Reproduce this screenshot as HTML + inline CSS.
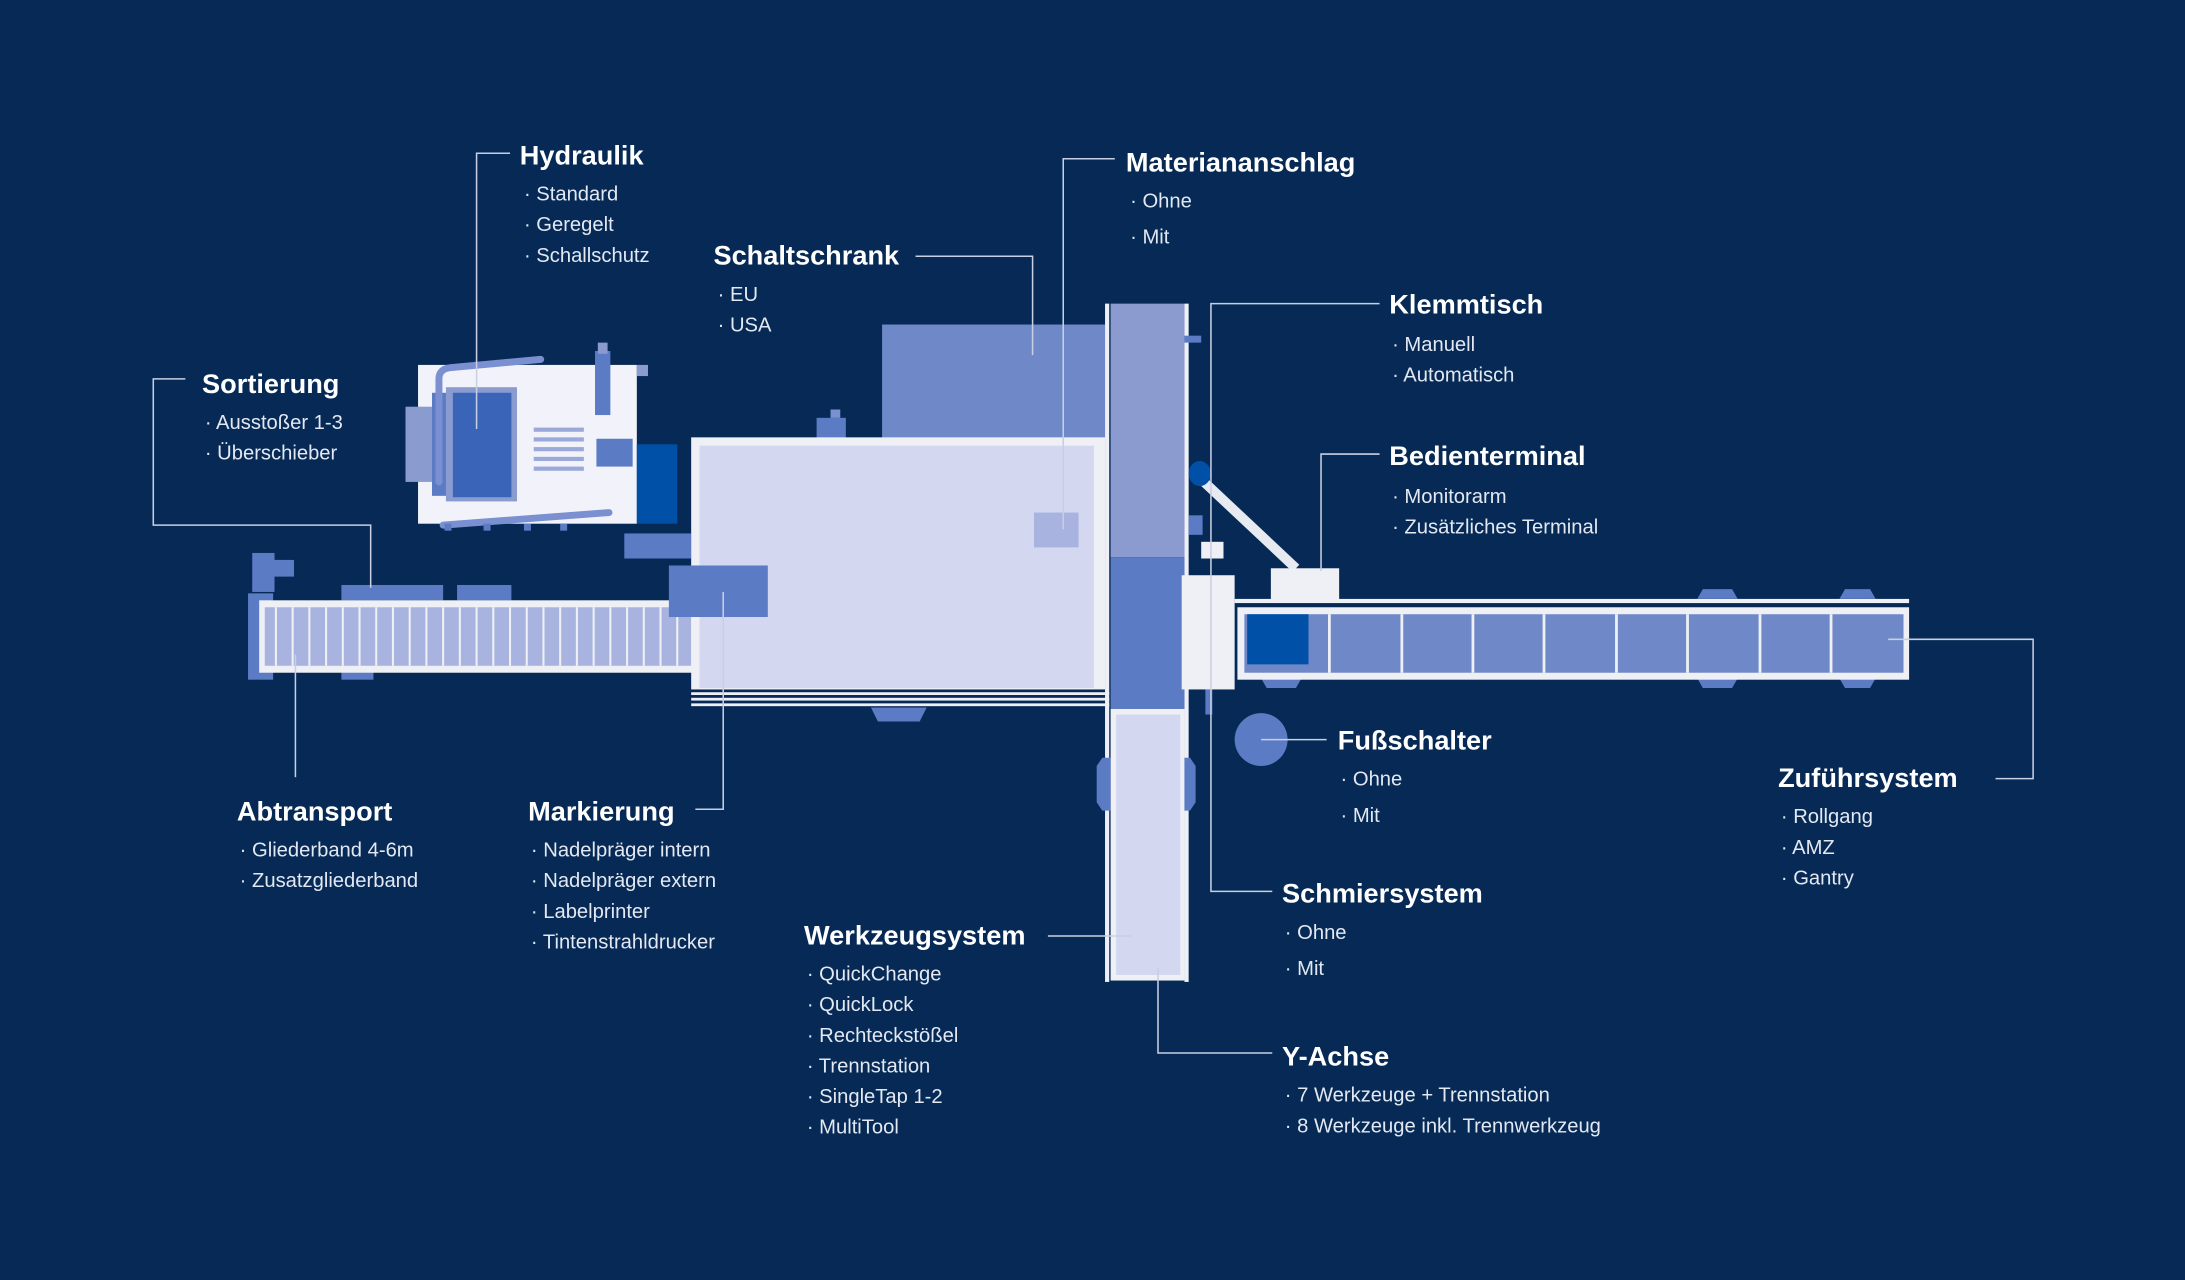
<!DOCTYPE html>
<html><head><meta charset="utf-8"><style>
html,body{margin:0;padding:0;background:#062a55;}
svg{display:block;}
.t{font-family:"Liberation Sans",sans-serif;font-weight:bold;font-size:19.5px;fill:#ffffff;}
.i{font-family:"Liberation Sans",sans-serif;font-size:14.5px;fill:#e3e8f2;}
.c{stroke:#c9cfe2;stroke-width:1.1;fill:none;}
</style></head><body>
<svg width="2185" height="1280" viewBox="0 0 1568 919" preserveAspectRatio="none" xmlns="http://www.w3.org/2000/svg">
<rect width="1568" height="919" fill="#062a55"/>

<!-- Left conveyor -->
<rect x="181" y="397" width="16" height="28" fill="#5b7bc4"/>
<rect x="195" y="402" width="16" height="12" fill="#5b7bc4"/>
<rect x="178" y="426" width="18" height="62" fill="#5b7bc4"/>
<rect x="245" y="420" width="73" height="11" fill="#5b7bc4"/>
<rect x="328" y="420" width="39" height="11" fill="#5b7bc4"/>
<rect x="245" y="482" width="23" height="6" fill="#5b7bc4"/>
<rect x="186" y="431" width="312" height="52" fill="#eef0f6"/>
<rect x="190" y="436" width="306" height="42" fill="#a8b3e0"/>
<g stroke="#eef0f6" stroke-width="1.5">
<line x1="198" y1="436" x2="198" y2="478"/><line x1="210" y1="436" x2="210" y2="478"/><line x1="222" y1="436" x2="222" y2="478"/><line x1="234" y1="436" x2="234" y2="478"/><line x1="246" y1="436" x2="246" y2="478"/><line x1="258" y1="436" x2="258" y2="478"/><line x1="270" y1="436" x2="270" y2="478"/><line x1="282" y1="436" x2="282" y2="478"/><line x1="294" y1="436" x2="294" y2="478"/><line x1="306" y1="436" x2="306" y2="478"/><line x1="318" y1="436" x2="318" y2="478"/><line x1="330" y1="436" x2="330" y2="478"/><line x1="342" y1="436" x2="342" y2="478"/><line x1="354" y1="436" x2="354" y2="478"/><line x1="366" y1="436" x2="366" y2="478"/><line x1="378" y1="436" x2="378" y2="478"/><line x1="390" y1="436" x2="390" y2="478"/><line x1="402" y1="436" x2="402" y2="478"/><line x1="414" y1="436" x2="414" y2="478"/><line x1="426" y1="436" x2="426" y2="478"/><line x1="438" y1="436" x2="438" y2="478"/><line x1="450" y1="436" x2="450" y2="478"/><line x1="462" y1="436" x2="462" y2="478"/><line x1="474" y1="436" x2="474" y2="478"/><line x1="486" y1="436" x2="486" y2="478"/>
</g>

<!-- Hydraulik unit -->
<rect x="300" y="262" width="157" height="114" fill="#f2f3fa"/>
<rect x="291" y="292" width="20" height="54" fill="#8a9bd0"/>
<rect x="310" y="282" width="12" height="74" fill="#5b7bc4"/>
<rect x="320" y="278" width="51" height="82" fill="#8a9bd0"/>
<rect x="325" y="282" width="42" height="75" fill="#3a64b8"/>
<g fill="#9aa8da"><rect x="383" y="307" width="36" height="3"/><rect x="383" y="314" width="36" height="3"/><rect x="383" y="321" width="36" height="3"/><rect x="383" y="328" width="36" height="3"/><rect x="383" y="335" width="36" height="3"/></g>
<rect x="428" y="315" width="26" height="20" fill="#5b7bc4"/>
<rect x="457" y="319" width="29" height="57" fill="#0050a8"/>
<rect x="427" y="252" width="11" height="46" fill="#5b7bc4"/>
<rect x="429" y="246" width="7" height="8" fill="#8a9bd0"/>
<rect x="457" y="262" width="8" height="8" fill="#8a9bd0"/>
<path d="M315,346 L315,272 Q315,265 323,264 L388,258" stroke="#7b90d0" stroke-width="5" fill="none" stroke-linecap="round"/>
<path d="M318,377 L437,368" stroke="#7b90d0" stroke-width="5" fill="none" stroke-linecap="round"/>
<g fill="#5b7bc4"><rect x="319" y="376" width="5" height="5"/><rect x="347" y="376" width="5" height="5"/><rect x="376" y="376" width="5" height="5"/><rect x="402" y="376" width="5" height="5"/></g>

<!-- Schaltschrank -->
<rect x="633" y="233" width="160" height="82" fill="#6f88c8"/>
<rect x="586" y="300" width="21" height="15" fill="#5b7bc4"/>
<rect x="596" y="294" width="7" height="6" fill="#7b90d0"/>
<rect x="448" y="383" width="48" height="18" fill="#5b7bc4"/>

<!-- main body -->
<rect x="496" y="314" width="297" height="181" fill="#eef0f6"/>
<rect x="502" y="320" width="283" height="174" fill="#d3d8f0"/>
<rect x="496" y="497" width="300" height="2" fill="#eef0f6"/>
<rect x="496" y="501" width="300" height="2" fill="#eef0f6"/>
<rect x="496" y="505" width="300" height="2" fill="#eef0f6"/>
<path d="M625,508 L665,508 L660,518 L630,518 Z" fill="#5b7bc4"/>
<rect x="480" y="406" width="71" height="37" fill="#5b7bc4"/>
<rect x="742" y="368" width="32" height="25" fill="#a8b3e0"/>

<!-- vertical column -->
<rect x="793" y="218" width="3" height="487" fill="#eef0f6"/>
<rect x="850" y="218" width="3" height="487" fill="#eef0f6"/>
<rect x="797" y="218" width="53" height="182" fill="#8b9bd0"/>
<rect x="797" y="400" width="53" height="109" fill="#5b7bc4"/>
<rect x="797" y="509" width="53" height="195" fill="#eef0f6"/>
<rect x="801" y="513" width="46" height="187" fill="#d3d8f0"/>
<path d="M787,550 L791,544 L797,544 L797,582 L791,582 L787,576 Z" fill="#5b7bc4"/>
<path d="M858,550 L854,544 L850,544 L850,582 L854,582 L858,576 Z" fill="#5b7bc4"/>
<rect x="850" y="241" width="12" height="5" fill="#5b7bc4"/>
<rect x="853" y="370" width="10" height="14" fill="#5b7bc4"/>
<rect x="850" y="488" width="30" height="4" fill="#5b7bc4"/>

<!-- arm + terminal -->
<line x1="864" y1="346" x2="930" y2="408" stroke="#e8eaf2" stroke-width="7"/>
<ellipse cx="861" cy="340" rx="8" ry="9" fill="#0050a8"/>
<rect x="912" y="408" width="49" height="23" fill="#eef0f6"/>
<!-- clamp -->
<rect x="862" y="389" width="16" height="12" fill="#eef0f6"/>
<rect x="848" y="413" width="38" height="82" fill="#eef0f6"/>
<rect x="865" y="495" width="5" height="18" fill="#5b7bc4"/>
<!-- right conveyor -->
<rect x="886" y="430" width="484" height="3" fill="#eef0f6"/>
<path d="M1218,430 L1222,423 L1243,423 L1247,430 Z" fill="#5b7bc4"/>
<path d="M1320,430 L1324,423 L1342,423 L1346,430 Z" fill="#5b7bc4"/>
<path d="M905,487 L909,494 L930,494 L934,487 Z" fill="#5b7bc4"/>
<path d="M1218,487 L1222,494 L1243,494 L1247,487 Z" fill="#5b7bc4"/>
<path d="M1320,487 L1324,494 L1342,494 L1346,487 Z" fill="#5b7bc4"/>
<rect x="888" y="436" width="482" height="52" fill="#eef0f6"/>
<rect x="893" y="441" width="473" height="42" fill="#6f88c8"/>
<rect x="895" y="441" width="44" height="36" fill="#0050a8"/>
<g fill="#eef0f6"><rect x="953" y="441" width="2" height="42"/><rect x="1005" y="441" width="2" height="42"/><rect x="1056" y="441" width="2" height="42"/><rect x="1107" y="441" width="2" height="42"/><rect x="1159" y="441" width="2" height="42"/><rect x="1210" y="441" width="2" height="42"/><rect x="1262" y="441" width="2" height="42"/><rect x="1313" y="441" width="2" height="42"/></g>

<circle cx="905" cy="531" r="19" fill="#5b7bc4"/>

<!-- connectors -->
<polyline class="c" points="366,110 342,110 342,308"/>
<polyline class="c" points="133,272 110,272 110,377 266,377 266,422"/>
<polyline class="c" points="657,184 741,184 741,255"/>
<polyline class="c" points="800,114 763,114 763,380"/>
<polyline class="c" points="990,218 869,218 869,640 913,640"/>
<polyline class="c" points="990,326 948,326 948,410"/>
<polyline class="c" points="905,531 952,531"/>
<polyline class="c" points="1432,559 1459,559 1459,459 1355,459"/>
<polyline class="c" points="212,558 212,470"/>
<polyline class="c" points="499,581 519,581 519,425"/>
<polyline class="c" points="752,672 812,672"/>
<polyline class="c" points="913,756 831,756 831,695"/>

<!-- labels -->
<text class="t" x="373" y="118">Hydraulik</text>
<text class="i" x="376" y="144">· Standard</text>
<text class="i" x="376" y="166">· Geregelt</text>
<text class="i" x="376" y="188">· Schallschutz</text>

<text class="t" x="145" y="282">Sortierung</text>
<text class="i" x="147" y="308">· Ausstoßer 1-3</text>
<text class="i" x="147" y="330">· Überschieber</text>

<text class="t" x="512" y="190">Schaltschrank</text>
<text class="i" x="515" y="216">· EU</text>
<text class="i" x="515" y="238">· USA</text>

<text class="t" x="808" y="123">Materiananschlag</text>
<text class="i" x="811" y="149">· Ohne</text>
<text class="i" x="811" y="175">· Mit</text>

<text class="t" x="997" y="225">Klemmtisch</text>
<text class="i" x="999" y="252">· Manuell</text>
<text class="i" x="999" y="274">· Automatisch</text>

<text class="t" x="997" y="334">Bedienterminal</text>
<text class="i" x="999" y="361">· Monitorarm</text>
<text class="i" x="999" y="383">· Zusätzliches Terminal</text>

<text class="t" x="960" y="538">Fußschalter</text>
<text class="i" x="962" y="564">· Ohne</text>
<text class="i" x="962" y="590">· Mit</text>

<text class="t" x="1276" y="565">Zuführsystem</text>
<text class="i" x="1278" y="591">· Rollgang</text>
<text class="i" x="1278" y="613">· AMZ</text>
<text class="i" x="1278" y="635">· Gantry</text>

<text class="t" x="920" y="648">Schmiersystem</text>
<text class="i" x="922" y="674">· Ohne</text>
<text class="i" x="922" y="700">· Mit</text>

<text class="t" x="920" y="765">Y-Achse</text>
<text class="i" x="922" y="791">· 7 Werkzeuge + Trennstation</text>
<text class="i" x="922" y="813">· 8 Werkzeuge inkl. Trennwerkzeug</text>

<text class="t" x="577" y="678">Werkzeugsystem</text>
<text class="i" x="579" y="704">· QuickChange</text>
<text class="i" x="579" y="726">· QuickLock</text>
<text class="i" x="579" y="748">· Rechteckstößel</text>
<text class="i" x="579" y="770">· Trennstation</text>
<text class="i" x="579" y="792">· SingleTap 1-2</text>
<text class="i" x="579" y="814">· MultiTool</text>

<text class="t" x="170" y="589">Abtransport</text>
<text class="i" x="172" y="615">· Gliederband 4-6m</text>
<text class="i" x="172" y="637">· Zusatzgliederband</text>

<text class="t" x="379" y="589">Markierung</text>
<text class="i" x="381" y="615">· Nadelpräger intern</text>
<text class="i" x="381" y="637">· Nadelpräger extern</text>
<text class="i" x="381" y="659">· Labelprinter</text>
<text class="i" x="381" y="681">· Tintenstrahldrucker</text>
</svg>
</body></html>
